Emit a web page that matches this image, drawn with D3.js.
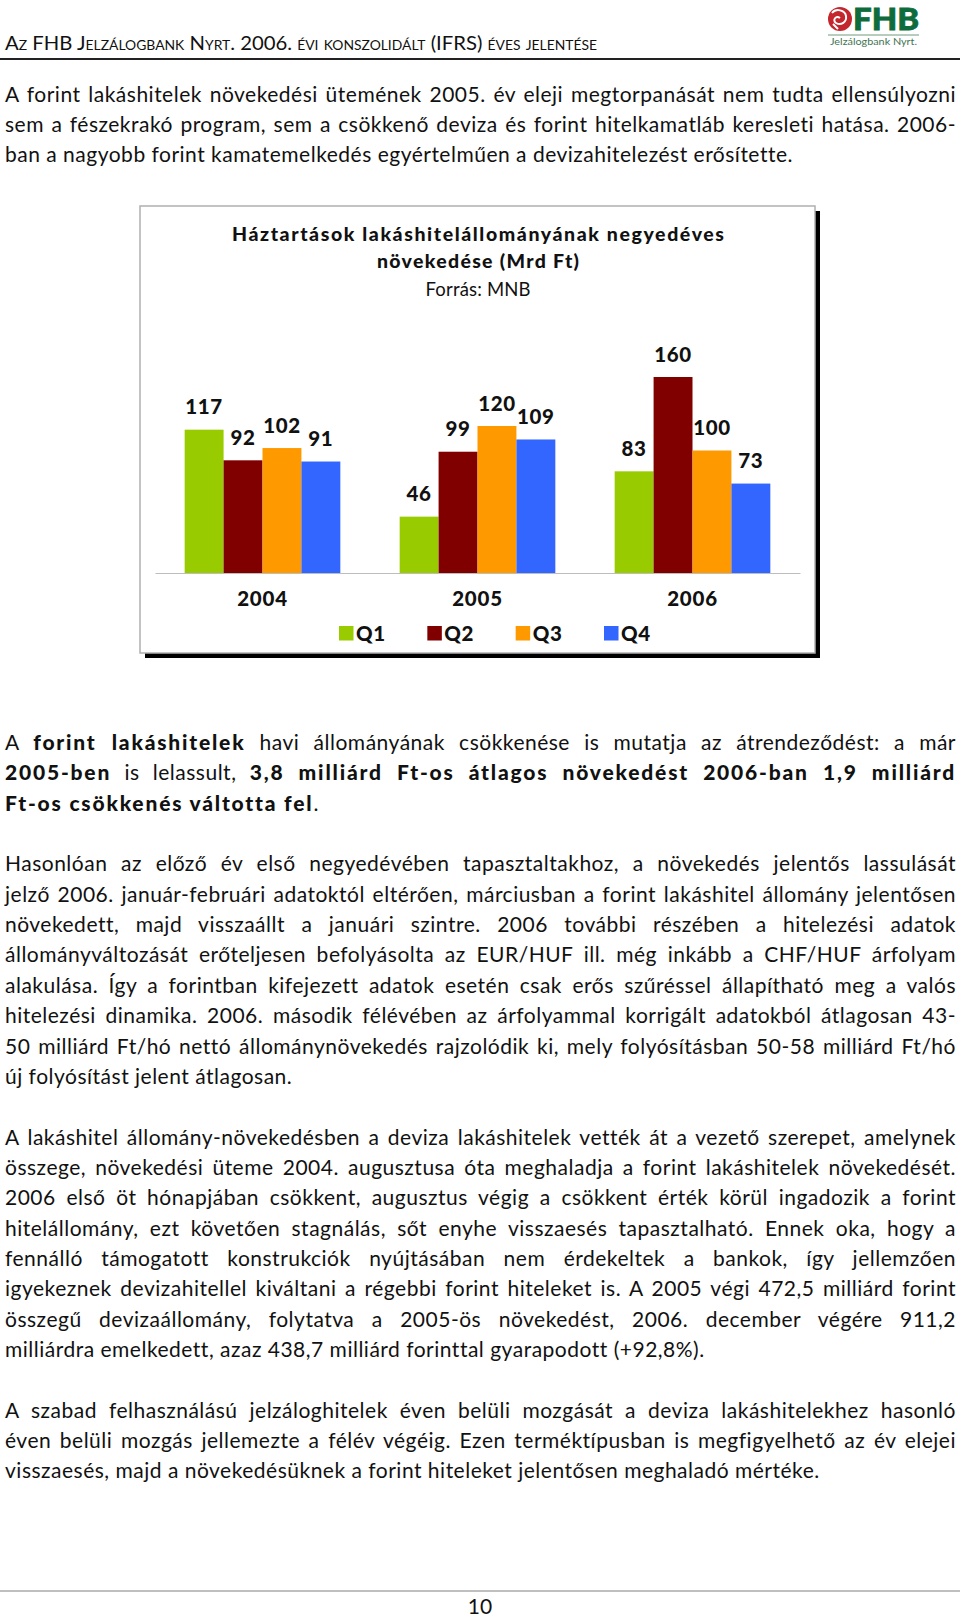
<!DOCTYPE html>
<html><head><meta charset="utf-8">
<script src="https://cdn.jsdelivr.net/npm/d3@7"></script>
<style>
html,body{margin:0;padding:0;background:#fff;}
svg{display:block;}
text{font-family:Lato,"Open Sans","DejaVu Sans",sans-serif;}
</style></head><body>
<svg id="page" width="960" height="1618"></svg>
<script>
// ---------- DATA ----------
const years = ["2004", "2005", "2006"];
const quarters = ["Q1", "Q2", "Q3", "Q4"];
const q1Values = [117, 46, 83];
const q2Values = [92, 99, 160];
const q3Values = [102, 120, 100];
const q4Values = [91, 109, 73];
const quarterColors = ["#99cc00", "#800000", "#ff9900", "#3366ff"];
const chartTitle = ["Háztartások lakáshitelállományának negyedéves", "növekedése (Mrd Ft)"];
const chartSource = "Forrás: MNB";

const headerText = "Az FHB Jelzálogbank Nyrt. 2006. évi konszolidált (IFRS) éves jelentése";
const pageNumber = "10";

const para1 = [
  "A forint lakáshitelek növekedési ütemének 2005. év eleji megtorpanását nem tudta ellensúlyozni",
  "sem a fészekrakó program, sem a csökkenő deviza és forint hitelkamatláb keresleti hatása. 2006-",
  "ban a nagyobb forint kamatemelkedés egyértelműen a devizahitelezést erősítette."
];
const para2 = [
  "A **forint lakáshitelek** havi állományának csökkenése is mutatja az átrendeződést: a már",
  "**2005-ben** is lelassult, **3,8 milliárd Ft-os átlagos növekedést 2006-ban 1,9 milliárd**",
  "**Ft-os csökkenés váltotta fel**."
];
const para3 = [
  "Hasonlóan az előző év első negyedévében tapasztaltakhoz, a növekedés jelentős lassulását",
  "jelző 2006. január-februári adatoktól eltérően, márciusban a forint lakáshitel állomány jelentősen",
  "növekedett, majd visszaállt a januári szintre. 2006 további részében a hitelezési adatok",
  "állományváltozását erőteljesen befolyásolta az EUR/HUF ill. még inkább a CHF/HUF árfolyam",
  "alakulása. Így a forintban kifejezett adatok esetén csak erős szűréssel állapítható meg a valós",
  "hitelezési dinamika. 2006. második félévében az árfolyammal korrigált adatokból átlagosan 43-",
  "50 milliárd Ft/hó nettó állománynövekedés rajzolódik ki, mely folyósításban 50-58 milliárd Ft/hó",
  "új folyósítást jelent átlagosan."
];
const para4 = [
  "A lakáshitel állomány-növekedésben a deviza lakáshitelek vették át a vezető szerepet, amelynek",
  "összege, növekedési üteme 2004. augusztusa óta meghaladja a forint lakáshitelek növekedését.",
  "2006 első öt hónapjában csökkent, augusztus végig a csökkent érték körül ingadozik a forint",
  "hitelállomány, ezt követően stagnálás, sőt enyhe visszaesés tapasztalható. Ennek oka, hogy a",
  "fennálló támogatott konstrukciók nyújtásában nem érdekeltek a bankok, így jellemzően",
  "igyekeznek devizahitellel kiváltani a régebbi forint hiteleket is. A 2005 végi 472,5 milliárd forint",
  "összegű devizaállomány, folytatva a 2005-ös növekedést, 2006. december végére 911,2",
  "milliárdra emelkedett, azaz 438,7 milliárd forinttal gyarapodott (+92,8%)."
];
const para5 = [
  "A szabad felhasználású jelzáloghitelek éven belüli mozgását a deviza lakáshitelekhez hasonló",
  "éven belüli mozgás jellemezte a félév végéig. Ezen terméktípusban is megfigyelhető az év elejei",
  "visszaesés, majd a növekedésüknek a forint hiteleket jelentősen meghaladó mértéke."
];

// ---------- PAGE ----------
const svg = d3.select("#page");
const W = 960;

// header
svg.append("text").attr("x", 5).attr("y", 50)
  .attr("font-size", 19).style("font-variant", "small-caps").attr("fill", "#111")
  .attr("textLength", 592).attr("lengthAdjust", "spacingAndGlyphs")
  .text(headerText);
svg.append("line").attr("x1", 0).attr("x2", W).attr("y1", 59).attr("y2", 59)
  .attr("stroke", "#222").attr("stroke-width", 2);

// logo
const logo = svg.append("g");
logo.append("circle").attr("cx", 840).attr("cy", 19).attr("r", 12).attr("fill", "#c4262e");
logo.append("path").attr("d", "M832,13 C836,8 845,10 846,16 C847,22 841,26 836,23 C832,20 836,15 840,18 M833,24 L838,29")
  .attr("fill", "none").attr("stroke", "#fff").attr("stroke-width", 2);
logo.append("text").attr("x", 853).attr("y", 30).attr("font-size", 31).attr("font-weight", 900)
  .attr("fill", "#0e6b3b").attr("stroke", "#0e6b3b").attr("stroke-width", 0.8)
  .attr("textLength", 66).attr("lengthAdjust", "spacingAndGlyphs").text("FHB");
logo.append("line").attr("x1", 828).attr("x2", 919).attr("y1", 35).attr("y2", 35)
  .attr("stroke", "#6f9a7d").attr("stroke-width", 1);
logo.append("text").attr("x", 830).attr("y", 45).attr("font-size", 8.5).attr("fill", "#3f7555")
  .attr("textLength", 87).attr("lengthAdjust", "spacingAndGlyphs").text("Jelzálogbank Nyrt.");

// justified text lines
const LEFT = 5, RIGHT = 956, FS = 21;
function drawLine(str, y, justify) {
  const t = svg.append("text").attr("x", LEFT).attr("y", y).attr("font-size", FS).attr("fill", "#111");
  const parts = str.split("**");
  parts.forEach((p, i) => {
    if (!p) return;
    t.append("tspan").attr("font-weight", i % 2 ? 900 : 400)
      .attr("letter-spacing", i % 2 ? 1.8 : 0.5).text(p);
  });
  if (justify) {
    const w = t.node().getComputedTextLength();
    const n = (str.replace(/\*\*/g, "").match(/ /g) || []).length;
    if (n > 0) t.attr("word-spacing", (RIGHT - LEFT - w) / n);
  }
}
function drawPara(lines, y0, step) {
  lines.forEach((l, i) => drawLine(l, y0 + i * step, i < lines.length - 1));
}
drawPara(para1, 101.5, 30.3);
const STEP = 30.35, BASE = 750;
drawPara(para2, BASE, STEP);
drawPara(para3, BASE + 4 * STEP, STEP);
drawPara(para4, BASE + 13 * STEP, STEP);
drawPara(para5, BASE + 22 * STEP, STEP);

// footer
svg.append("line").attr("x1", 0).attr("x2", W).attr("y1", 1591).attr("y2", 1591)
  .attr("stroke", "#aaa").attr("stroke-width", 1.5);
svg.append("text").attr("x", 480).attr("y", 1614).attr("text-anchor", "middle")
  .attr("font-size", 21).attr("fill", "#111").text(pageNumber);

// ---------- CHART ----------
const box = {x: 140, y: 206, w: 675, h: 447};
svg.append("rect").attr("x", box.x + 5).attr("y", box.y + 5).attr("width", box.w).attr("height", box.h).attr("fill", "#000");
svg.append("rect").attr("x", box.x).attr("y", box.y).attr("width", box.w).attr("height", box.h)
  .attr("fill", "#fff").attr("stroke", "#b0b0b0").attr("stroke-width", 1.5);

const cx = 478;
const titleLens = [492, 202];
chartTitle.forEach((t, i) => {
  svg.append("text").attr("x", cx).attr("y", 241 + i * 26.5).attr("text-anchor", "middle")
    .attr("font-size", 19.5).attr("font-weight", 900).attr("fill", "#111")
    .attr("textLength", titleLens[i]).attr("lengthAdjust", "spacing").text(t);
});
svg.append("text").attr("x", cx).attr("y", 295.5).attr("text-anchor", "middle")
  .attr("font-size", 18.5).attr("fill", "#111")
  .attr("textLength", 105).attr("lengthAdjust", "spacing").text(chartSource);

const series = [q1Values, q2Values, q3Values, q4Values];
const data = years.map((yr, yi) => ({year: yr, vals: quarters.map((q, qi) => ({q, v: series[qi][yi], c: quarterColors[qi]}))}));

const x0 = d3.scaleBand().domain(years).range([155, 800]).paddingInner(0.276).paddingOuter(0.138);
const x1 = d3.scaleBand().domain(quarters).range([0, x0.bandwidth()]);
const y = d3.scaleLinear().domain([0, 160]).range([573, 377]);

const groups = svg.append("g").selectAll("g").data(data).join("g")
  .attr("transform", d => `translate(${x0(d.year)},0)`);
groups.selectAll("rect").data(d => d.vals).join("rect")
  .attr("x", d => x1(d.q)).attr("width", x1.bandwidth())
  .attr("y", d => y(d.v)).attr("height", d => y(0) - y(d.v)).attr("fill", d => d.c);
groups.selectAll("text").data(d => d.vals).join("text")
  .attr("x", d => x1(d.q) + x1.bandwidth() / 2).attr("y", d => y(d.v) - 15.5)
  .attr("text-anchor", "middle").attr("font-size", 20.5).attr("font-weight", 900).attr("fill", "#111")
  .attr("letter-spacing", 0.6).text(d => d.v);

const axis = svg.append("g").attr("transform", `translate(0,${y(0)})`)
  .call(d3.axisBottom(x0).tickSize(0).tickSizeOuter(0).tickPadding(0));
axis.select(".domain").attr("stroke", "#bdbdbd").attr("stroke-width", 1.2);
axis.selectAll(".tick text").attr("dy", 0).attr("y", 33).attr("font-size", 20.5).attr("font-weight", 900)
  .attr("letter-spacing", 0.8).attr("fill", "#111").style("font-family", "Lato,'Open Sans',sans-serif");

const lx = d3.scalePoint().domain(quarters).range([339, 604]);
const leg = svg.append("g").selectAll("g").data(quarters).join("g")
  .attr("transform", q => `translate(${lx(q)},626)`);
leg.append("rect").attr("width", 14.5).attr("height", 14.5).attr("fill", (q, i) => quarterColors[i]);
leg.append("text").attr("x", 17).attr("y", 14.5).attr("font-size", 20.5).attr("font-weight", 900)
  .attr("letter-spacing", 0.6).attr("fill", "#111").text(q => q);
</script>
</body></html>
